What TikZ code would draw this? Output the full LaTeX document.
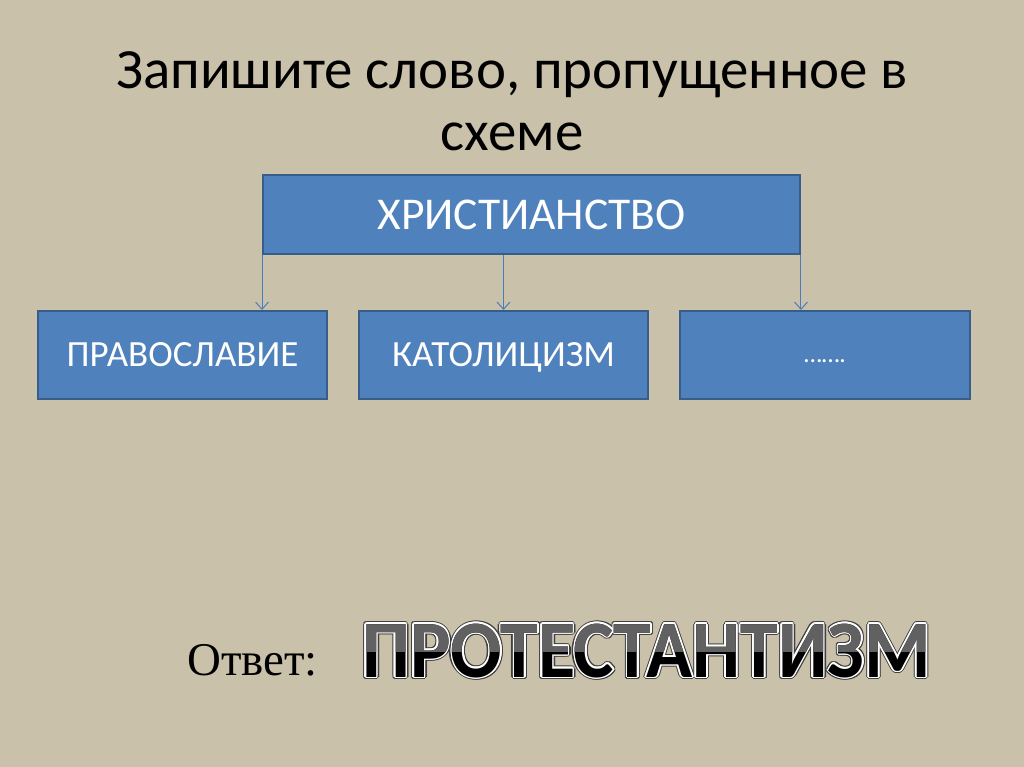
\documentclass[tikz,border=0pt]{standalone}
\usepackage{fontspec}
\setmainfont{Carlito}
\newfontfamily\answerfont{Liberation Serif}
\usetikzlibrary{arrows.meta}

\definecolor{slidebg}{RGB}{202,193,170}
\definecolor{boxfill}{RGB}{79,129,189}
\definecolor{boxline}{RGB}{56,93,138}
\definecolor{linkcol}{RGB}{74,126,187}

\tikzset{
  topbox/.style={draw=boxline, fill=boxfill, line width=1.4pt, text=white,
    minimum width=377.5pt, minimum height=55.5pt,
    text height=20.6pt, text depth=0pt,
    font=\fontsize{32}{38}\selectfont},
  subbox/.style={draw=boxline, fill=boxfill, line width=1.4pt, text=white,
    minimum width=203.2pt, minimum height=61.9pt,
    text height=16.7pt, text depth=0pt,
    font=\fontsize{26}{31}\selectfont},
  link/.style={draw=linkcol, line width=0.7pt,
    -{Straight Barb[length=5pt, width=9pt, line width=0.7pt]}},
  bigword/.style={anchor=base west, inner sep=0pt,
    font=\bfseries\fontsize{53.5}{60}\selectfont}
}

\newcommand{\answerword}{\scalebox{1}[1.07]{ПРОТЕСТАНТИЗМ}}

\begin{document}
\begin{tikzpicture}[x=0.703pt, y=-0.703pt]
   \useasboundingbox (0,0) rectangle (1024,767);
   \fill[slidebg] (0,0) rectangle (1024,767);

   % title
   \node [draw=none, anchor=base, font=\fontsize{40}{46}\selectfont] (title) at (512,88) {Запишите слово, пропущенное в};
   \node [draw=none, anchor=base, font=\fontsize{40}{46}\selectfont] (title2) at (512,150) {схеме};

   % scheme
   \node [topbox] (xr) at (531.5,214.5) {ХРИСТИАНСТВО};
   \node [subbox] (prav) at (182.5,355) {ПРАВОСЛАВИЕ};
   \node [subbox] (kat) at (503.5,355) {КАТОЛИЦИЗМ};
   \node [subbox, font=\fontsize{18}{22}\selectfont, text height=11.2pt] (dots) at (825,355) {…….};

   \draw [link] (xr.south west) -- (xr.south west |- prav.north);
   \draw [link] (kat.north |- xr.south) -- (kat.north);
   \draw [link] (xr.south east) -- (xr.south east |- dots.north);

   % answer
   \node [draw=none, anchor=base west, inner sep=0pt, font=\answerfont\fontsize{33}{38}\selectfont] (otvet) at (187,675) {Ответ:};
   \foreach \a in {0,30,...,330}
      \node [bigword, text=black!75] at ([shift={(\a:2.8)}]362,677) {\answerword};
   \foreach \a in {0,30,...,330}
      \node [bigword, text=white] at ([shift={(\a:1.6)}]362,677) {\answerword};
   \node [bigword, text=black] (prot) at (362,677) {\answerword};
   \begin{scope}
      \clip (340,600) rectangle (960,651);
      \node [bigword, text=black!62] at (362,677) {\answerword};
   \end{scope}
\end{tikzpicture}
\end{document}
